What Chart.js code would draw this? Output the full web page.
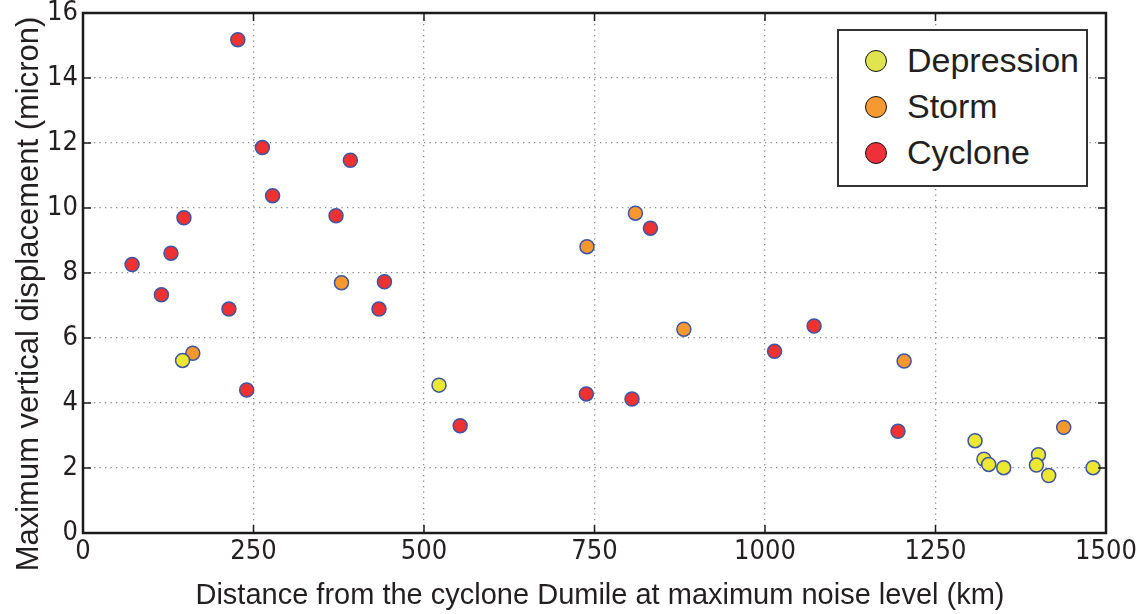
<!DOCTYPE html>
<html>
<head>
<meta charset="utf-8">
<title>Displacement vs distance</title>
<script src="https://cdn.jsdelivr.net/npm/chart.js@4.4.1/dist/chart.umd.min.js"></script>
<style>
    html, body { margin: 0; padding: 0; background: #fff; }
    #wrap { position: relative; width: 1138px; height: 614px; }
    #legend {
        position: absolute; left: 837px; top: 29px; width: 247px; height: 154px;
        border: 2px solid #333; background: #fff;
        font-family: "Liberation Sans", Arial, sans-serif; font-size: 34px; color: #231f20;
    }
    .row { position: absolute; left: 0; height: 46px; width: 100%; }
    .dot {
        position: absolute; left: 26px; top: 11px; width: 20px; height: 20px;
        border: 1.5px solid #111; border-radius: 50%;
    }
    .lbl { position: absolute; left: 68px; top: 2px; line-height: 38px; white-space: nowrap; }
</style>
</head>
<body>
<div id="wrap">
    <canvas id="chart" width="1138" height="614"></canvas>
    <div id="legend"></div>
</div>
<script>
(function () {
    'use strict';

    /* =====================================================
       DATA
       ===================================================== */
    var seriesNames = ['Depression', 'Storm', 'Cyclone'];

    var depressionX = [146, 522, 1308, 1321, 1328, 1350, 1401, 1398, 1416, 1481];
    var depressionY = [5.31, 4.55, 2.84, 2.27, 2.11, 2.01, 2.41, 2.09, 1.77, 2.01];

    var stormX = [161, 379, 739, 810, 881, 1204, 1438];
    var stormY = [5.53, 7.70, 8.81, 9.84, 6.27, 5.29, 3.25];

    var cycloneX = [227, 263, 392, 278, 371, 148, 129, 72, 442, 115, 214, 434, 240, 553, 832, 1072, 1014, 738, 805, 1195];
    var cycloneY = [15.18, 11.86, 11.47, 10.38, 9.76, 9.70, 8.61, 8.26, 7.73, 7.33, 6.89, 6.89, 4.40, 3.30, 9.38, 6.37, 5.59, 4.28, 4.12, 3.13];

    var xTicks = [0, 250, 500, 750, 1000, 1250, 1500];
    var yTicks = [0, 2, 4, 6, 8, 10, 12, 14, 16];

    var xTitle = 'Distance from the cyclone Dumile at maximum noise level (km)';
    var yTitle = 'Maximum vertical displacement (micron)';

    /* =====================================================
       STYLE
       ===================================================== */
    var fills = ['#ece832', '#f7982e', '#ee3232'];
    var legendFills = ['#dfe44f', '#f59a32', '#ee3038'];
    var edge = '#3d55a6';
    var ink = '#231f20';
    var tickFont = { family: '"Liberation Sans Narrow", "DejaVu Sans Condensed", sans-serif', size: 27, lineHeight: 1 };
    var xTitleFont = '29px "Liberation Sans", Arial, sans-serif';
    var yTitleFont = '31px "Liberation Sans", Arial, sans-serif';

    function pairs(xs, ys) {
        return xs.map(function (x, i) { return { x: x, y: ys[i] }; });
    }

    var allX = [depressionX, stormX, cycloneX];
    var allY = [depressionY, stormY, cycloneY];

    var datasets = seriesNames.map(function (name, i) {
        return {
            label: name,
            data: pairs(allX[i], allY[i]),
            backgroundColor: fills[i],
            borderColor: edge,
            borderWidth: 1.5,
            pointRadius: 7,
            pointHoverRadius: 7,
            order: i
        };
    });

    /* =====================================================
       FRAME, INWARD TICKS AND AXIS TITLES
       ===================================================== */
    var framePlugin = {
        id: 'frame',
        afterDraw: function (chart) {
            var ctx = chart.ctx;
            var a = chart.chartArea;
            var xs = chart.scales.x, ys = chart.scales.y;
            var len = 8;
            ctx.save();
            ctx.strokeStyle = '#1a1a1a';
            ctx.lineWidth = 1.5;
            xTicks.forEach(function (v) {
                var px = xs.getPixelForValue(v);
                ctx.beginPath();
                ctx.moveTo(px, a.bottom); ctx.lineTo(px, a.bottom - len);
                ctx.moveTo(px, a.top); ctx.lineTo(px, a.top + len);
                ctx.stroke();
            });
            yTicks.forEach(function (v) {
                var py = ys.getPixelForValue(v);
                ctx.beginPath();
                ctx.moveTo(a.left, py); ctx.lineTo(a.left + len, py);
                ctx.moveTo(a.right, py); ctx.lineTo(a.right - len, py);
                ctx.stroke();
            });
            ctx.lineWidth = 2.5;
            ctx.strokeRect(a.left, a.top, a.right - a.left, a.bottom - a.top);

            ctx.fillStyle = ink;
            ctx.textAlign = 'center';
            ctx.textBaseline = 'middle';
            ctx.font = xTitleFont;
            ctx.fillText(xTitle, 600, 596);
            ctx.font = yTitleFont;
            ctx.translate(29, 294);
            ctx.rotate(-Math.PI / 2);
            ctx.fillText(yTitle, 0, 0);
            ctx.restore();
        }
    };

    var gridStyle = {
        color: '#8a8a8a',
        lineWidth: 1.3,
        drawTicks: false
    };

    function plain(v) { return String(v); }

    new Chart(document.getElementById('chart').getContext('2d'), {
        type: 'scatter',
        data: { datasets: datasets },
        options: {
            responsive: false,
            animation: false,
            layout: { padding: { top: 13, right: 32, left: 0, bottom: 0 } },
            plugins: {
                legend: { display: false },
                tooltip: { enabled: false }
            },
            scales: {
                x: {
                    type: 'linear',
                    min: 0, max: 1500,
                    afterFit: function (s) {
                        s.height = 81;
                        s.paddingLeft = 0;
                        s.paddingRight = 0;
                    },
                    afterBuildTicks: function (s) {
                        s.ticks = xTicks.map(function (v) { return { value: v }; });
                    },
                    grid: gridStyle,
                    border: { display: false, dash: [1.3, 4.2] },
                    ticks: { font: tickFont, color: ink, padding: 5, maxRotation: 0, callback: plain }
                },
                y: {
                    type: 'linear',
                    min: 0, max: 16,
                    afterFit: function (s) {
                        s.width = 83;
                        s.paddingTop = 0;
                        s.paddingBottom = 0;
                    },
                    afterBuildTicks: function (s) {
                        s.ticks = yTicks.map(function (v) { return { value: v }; });
                    },
                    grid: gridStyle,
                    border: { display: false, dash: [1.3, 4.2] },
                    ticks: { font: tickFont, color: ink, padding: 5, callback: plain }
                }
            }
        },
        plugins: [framePlugin]
    });

    /* =====================================================
       LEGEND (html, real text)
       ===================================================== */
    var legend = document.getElementById('legend');
    seriesNames.forEach(function (name, i) {
        var row = document.createElement('div');
        row.className = 'row';
        row.style.top = (8 + i * 46) + 'px';
        row.innerHTML = '<span class="dot" style="background:' + legendFills[i] + '"></span>' +
            '<span class="lbl">' + name + '</span>';
        legend.appendChild(row);
    });
})();
</script>
</body>
</html>
